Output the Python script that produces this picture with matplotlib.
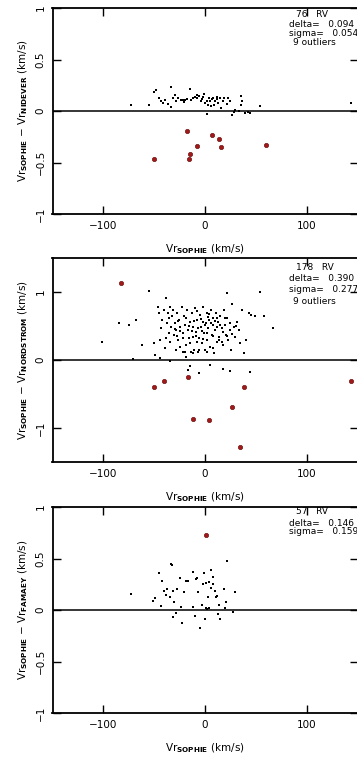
import numpy as np
import matplotlib
matplotlib.use("Agg")
import matplotlib.pyplot as plt

# ---- data ----
# panel 1: SOPHIE vs NIDEVER
nid_x = [-72.6, -55.1, -50.5, -47.9, -45.2, -42.9, -41.3, -38.9, -36.3, -33.7, -33.3, -31.4,
         -29.7, -28.1, -26.1, -23.8, -22.1, -20.8, -19.8, -17.5, -14.9, -13.5, -12.2, -9.9,
         -8.3, -7.6, -5.6, -4.3, -3.3, -1.7, -1.0, 0.0, 1.7, 2.3, 3.3, 4.3, 5.0, 5.6, 6.6,
         7.6, 8.9, 9.9, 11.6, 12.2, 13.2, 14.9, 15.8, 17.5, 18.2, 21.5, 23.1, 24.8, 26.4,
         28.1, 29.7, 33.0, 35.3, 35.3, 36.6, 39.6, 41.9, 43.9, 53.8, 143.6]
nid_y = [0.059, 0.059, 0.18, 0.20, 0.13, 0.10, 0.08, 0.11, 0.065, 0.04, 0.235, 0.13,
         0.157, 0.10, 0.124, 0.105, 0.11, 0.085, 0.11, 0.118, 0.21, 0.11, 0.13, 0.137,
         0.154, 0.124, 0.15, 0.098, 0.118, 0.14, 0.163, 0.082, -0.026, 0.098, 0.056, 0.13,
         0.098, 0.046, 0.118, 0.13, 0.059, 0.098, 0.118, 0.137, 0.078, 0.13, 0.033, 0.098,
         0.13, 0.065, 0.124, 0.098, -0.04, -0.007, 0.007, 0.0, 0.144, 0.059, 0.098, -0.016,
         -0.007, -0.02, 0.049, 0.082]
nid_out_x = [-17.5, 6.6, 13.9, -7.6, 15.8, 60.1, -14.9, -15.5, -50.2]
nid_out_y = [-0.196, -0.229, -0.268, -0.343, -0.353, -0.333, -0.418, -0.467, -0.464]

# panel 2: SOPHIE vs NORDSTROM
nor_x = [-101.7, -84.8, -74.9, -67.7, -71.0, -61.7, -55.4, -50.5, -49.5, -46.2, -45.2, -44.6,
         -44.0, -43.0, -42.0, -40.6, -39.6, -38.6, -38.0, -37.0, -36.3, -35.3, -34.7, -34.0,
         -33.0, -32.0, -31.4, -30.7, -29.7, -28.7, -28.1, -27.4, -26.4, -25.7, -24.8, -24.1,
         -23.1, -22.1, -21.5, -20.5, -19.8, -18.8, -18.2, -17.5, -16.5, -15.5, -14.9, -14.2,
         -13.2, -12.2, -11.6, -10.9, -9.9, -8.9, -8.3, -7.6, -6.6, -5.6, -5.0, -4.3, -3.3,
         -2.3, -1.7, -1.0, 0.0, 1.0, 1.7, 2.3, 3.3, 4.3, 5.0, 5.6, 6.6, 7.6, 8.3, 8.9, 9.9,
         10.9, 11.6, 13.2, 14.2, 14.9, 16.5, 17.5, 18.8, 19.8, 20.8, 21.5, 22.1, 23.1, 24.1,
         25.4, 26.4, 28.1, 29.7, 31.4, 33.0, 34.7, 36.3, 37.9, 40.6, 42.9, 45.2, 49.5, 53.8,
         57.8, 67.0, -34.0, -14.9, -16.5, 5.0, 17.5, 24.8, 43.9, -5.6,
         -35, -30, -27, -22, -19, -16, -13, -11, -9, -7, -4, -2, 0, 2, 3, 6, 8, 10, 12, 14,
         15, 18, 20, 22, 25, 27, 30, -25, -20, -12, -6, 2, 8, -8, 4, 12, -15, -3, 17, -28]
nor_y = [0.27, 0.54, 0.51, 0.59, 0.015, 0.216, 1.02, 0.255, 0.078, 0.78, 0.69, 0.03,
         0.29, 0.466, 0.59, 0.735, 0.17, 0.91, 0.32, 0.54, 0.69, 0.39, 0.78, 0.27,
         0.49, 0.64, 0.735, 0.37, 0.54, 0.147, 0.44, 0.69, 0.29, 0.59, 0.196, 0.49,
         0.78, 0.12, 0.39, 0.64, 0.515, 0.22, 0.05, 0.735, 0.44, 0.32, 0.564, 0.12,
         0.69, 0.34, 0.49, 0.147, 0.76, 0.417, 0.27, 0.59, 0.12, 0.32, 0.66, 0.49, 0.245,
         0.564, 0.78, 0.39, 0.147, 0.54, 0.69, 0.29, 0.466, 0.59, 0.196, 0.735, 0.37, 0.515,
         0.613, 0.098, 0.44, 0.69, 0.27, 0.564, 0.343, 0.64, 0.466, 0.22, 0.735, 0.515,
         0.37, 0.98, 0.613, 0.29, 0.44, 0.147, 0.83, 0.49, 0.343, 0.564, 0.44, 0.245,
         0.735, 0.098, 0.29, 0.69, 0.66, 0.64, 1.0, 0.64, 0.466,
         -0.015, -0.088, -0.147, -0.074, -0.132, -0.157, -0.18, -0.196,
         0.62, 0.45, 0.58, 0.33, 0.62, 0.50, 0.42, 0.58, 0.35, 0.47, 0.60, 0.31, 0.52, 0.40,
         0.63, 0.55, 0.36, 0.58, 0.48, 0.30, 0.52, 0.41, 0.62, 0.35, 0.55, 0.38, 0.50, 0.42,
         0.12, 0.10, 0.15, 0.12, 0.18, 0.72, 0.68, 0.62, 0.25, 0.42, 0.26, 0.36]
nor_out_x = [-82.2, -40.3, -50.2, -17.2, 37.9, 143.6, 26.4, -11.6, 3.6, 34.0]
nor_out_y = [1.137, -0.304, -0.392, -0.245, -0.392, -0.304, -0.696, -0.873, -0.882, -1.275]

# panel 3: SOPHIE vs FAMAEY
fam_x = [-72.6, -51.2, -48.8, -45.5, -42.9, -41.9, -39.9, -38.0, -37.0, -34.7, -33.7, -32.0,
         -31.4, -31.4, -30.7, -29.0, -27.1, -24.8, -23.8, -23.1, -20.8, -18.2, -16.5, -12.2,
         -11.6, -9.9, -8.9, -8.3, -7.3, -5.0, -3.3, -1.7, -1.0, 0.0, 0.7, 1.0, 1.7, 2.6,
         4.0, 4.3, 5.6, 5.9, 7.6, 8.3, 9.9, 10.9, 12.2, 13.2, 14.2, 14.9, 18.8, 19.8, 20.8,
         22.1, 27.4, 29.7]
fam_y = [0.154, 0.09, 0.12, 0.36, 0.04, 0.28, 0.186, 0.144, 0.2, 0.13, 0.45, 0.44,
         0.186, -0.07, 0.08, -0.032, 0.2, 0.314, 0.026, -0.125, 0.176, 0.28, 0.28, 0.37,
         0.026, -0.054, 0.298, 0.314, 0.17, -0.176, 0.048, 0.25, 0.362, -0.087, 0.016,
         0.263, 0.01, 0.13, 0.016, 0.27, 0.218, 0.385, 0.324, 0.25, 0.186, 0.122, 0.138,
         -0.038, 0.048, -0.087, 0.208, 0.016, 0.08, 0.474, -0.016, 0.17]
fam_out_x = [0.7]
fam_out_y = [0.724]

names = ["NIDEVER", "NORDSTROM", "FAMAEY"]
n_rv = [76, 178, 57]
deltas = ["0.094", "0.390", "0.146"]
sigmas = ["0.054", "0.277", "0.159"]
outlier_txt = ["9 outliers", "9 outliers", None]
ylims = [(-1, 1), (-1.5, 1.5), (-1, 1)]
yticks = [[-1, -0.5, 0, 0.5, 1], [-1, 0, 1], [-1, -0.5, 0, 0.5, 1]]
ytick_labels = [["\u22121", "\u22120.5", "0", "0.5", "1"], ["\u22121", "0", "1"],
                ["\u22121", "\u22120.5", "0", "0.5", "1"]]

panels = [(nid_x, nid_y, nid_out_x, nid_out_y),
          (nor_x, nor_y, nor_out_x, nor_out_y),
          (fam_x, fam_y, fam_out_x, fam_out_y)]

# axes rectangles in figure fraction (left, bottom, width, height)
W, H = 357, 759
rects = [(52.5 / W, 1 - 214 / H, 305 / W, 206 / H),
         (52.5 / W, 1 - 462 / H, 305 / W, 204 / H),
         (52.5 / W, 1 - 713 / H, 305 / W, 206 / H)]
# annotation line heights in axes fraction per panel
text_rows = [[0.967, 0.92, 0.876, 0.832],
             [0.955, 0.90, 0.846, 0.787],
             [0.98, 0.92, 0.88, 0.84]]

plt.rcParams["font.family"] = "DejaVu Sans"
fig = plt.figure(figsize=(W / 100, H / 100), dpi=100)

for i, (bx, by, rx, ry) in enumerate(panels):
    ax = fig.add_axes(rects[i])
    ax.scatter(bx, by, s=2.5, color="black", marker="s", linewidths=0)
    ax.scatter(rx, ry, s=10, color="#a51818", edgecolors="#5a0a0a", linewidths=0.4)
    ax.axhline(0, color="black", lw=1.1)
    ax.set_xlim(-150, 150)
    ax.set_ylim(*ylims[i])
    ax.set_xticks([-100, 0, 100])
    ax.set_xticklabels(["\u2212100", "0", "100"])
    ax.set_yticks(yticks[i])
    ax.set_yticklabels(ytick_labels[i], rotation=90, va="center")
    ax.tick_params(direction="in", length=6, width=1.0, top=True, right=True,
                   labelsize=7.5, colors="black")
    ax.tick_params(axis="x", pad=5)
    ax.tick_params(axis="y", pad=5)
    for sp in ax.spines.values():
        sp.set_linewidth(1.3)

    ax.set_xlabel(r"Vr$_{\mathbf{SOPHIE}}$ (km/s)", fontsize=7.5, labelpad=8)
    ax.set_ylabel(r"Vr$_{\mathbf{SOPHIE}}$ $-$ Vr$_{\mathbf{%s}}$ (km/s)" % names[i],
                  fontsize=7.5, labelpad=4)

    rows = text_rows[i]
    ax.text(0.80, rows[0], f"{n_rv[i]}   RV", transform=ax.transAxes, fontsize=6.5,
            va="center", ha="left")
    ax.text(0.775, rows[1], f"delta=   {deltas[i]}", transform=ax.transAxes, fontsize=6.5,
            va="center", ha="left")
    ax.text(0.775, rows[2], f"sigma=   {sigmas[i]}", transform=ax.transAxes, fontsize=6.5,
            va="center", ha="left", clip_on=False)
    if outlier_txt[i]:
        ax.text(0.79, rows[3], outlier_txt[i], transform=ax.transAxes, fontsize=6.5,
                va="center", ha="left")

fig.savefig("out.png", dpi=100)
